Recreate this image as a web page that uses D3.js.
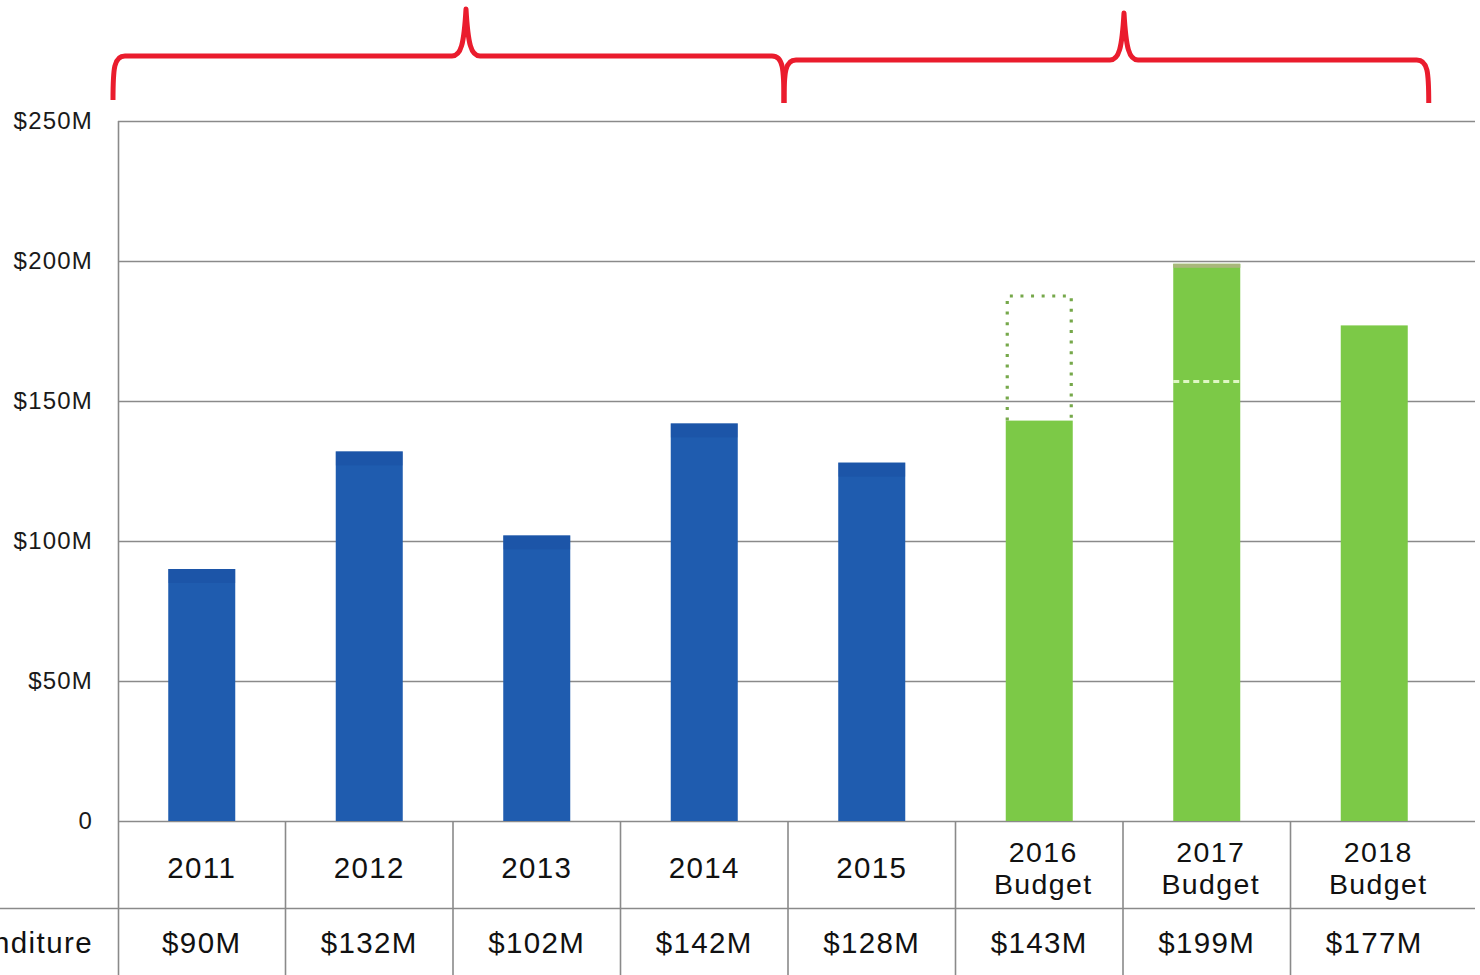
<!DOCTYPE html>
<html><head><meta charset="utf-8">
<script src="https://cdn.jsdelivr.net/npm/d3@7"></script>
<style>
html,body{margin:0;padding:0;background:#fff;}
svg{display:block;font-family:"Liberation Sans",Arial,sans-serif;}
</style></head>
<body>
<svg id="chart" width="1480" height="975"></svg>
<script>
// ---- data ----
const categories = ["2011","2012","2013","2014","2015","2016 Budget","2017 Budget","2018 Budget"];
const categoryLines = [["2011"],["2012"],["2013"],["2014"],["2015"],["2016","Budget"],["2017","Budget"],["2018","Budget"]];
const values = [90,132,102,142,128,143,199,177];
const valueLabels = ["$90M","$132M","$102M","$142M","$128M","$143M","$199M","$177M"];
const kinds = ["actual","actual","actual","actual","actual","budget","budget","budget"];
const yTicks = [0,50,100,150,200,250];
const yTickLabels = ["0","$50M","$100M","$150M","$200M","$250M"];
const rowLabel = "Expenditure";
// annotation values
const dottedCategory = "2016 Budget", dottedTop = 187.5;
const dashedCategory = "2017 Budget", dashedValue = 157;

(function(){
const svg = d3.select("#chart");
const pLeft = 118, pRight = 1475, pTop = 121, pBottom = 821;
const tableRow1 = 908, tableBottom = 975;

const y = d3.scaleLinear().domain([0,250]).range([pBottom, pTop]);
const x = d3.scaleBand().domain(categories).range([pLeft, pLeft + 8*167.5])
  .paddingInner(0.6).paddingOuter(0.3);
const step = x.step();
const colX = i => pLeft + i*step;

const blue = "#1f5caf", green = "#7cc947", gridC = "#8a8a8a";

// gridlines
svg.append("g").selectAll("line").data(yTicks).join("line")
  .attr("x1", pLeft).attr("x2", pRight)
  .attr("y1", d => Math.round(y(d))+0.5).attr("y2", d => Math.round(y(d))+0.5)
  .attr("stroke", gridC).attr("stroke-width", 1.4);

// y axis labels
svg.append("g").selectAll("text").data(yTicks).join("text")
  .attr("x", 93).attr("y", d => y(d) + 8)
  .attr("text-anchor","end").attr("font-size", 24).attr("letter-spacing", 1.2).attr("fill","#1a1a1a")
  .text((d,i) => yTickLabels[i]);

// bars
svg.append("g").selectAll("rect").data(values).join("rect")
  .attr("x", (d,i) => x(categories[i])).attr("width", x.bandwidth())
  .attr("y", d => y(d)).attr("height", d => y(0) - y(d))
  .attr("fill", (d,i) => kinds[i] === "actual" ? blue : green);

// darker top strip on actual bars
svg.append("g").selectAll("rect").data(values).join("rect")
  .filter((d,i) => kinds[i] === "actual")
  .attr("x", (d,i) => x(categories[i])).attr("width", x.bandwidth())
  .attr("y", d => y(d)).attr("height", 14)
  .attr("fill", "#17499a").attr("opacity", 0.35);

// dotted box above 2016 bar
{
  const i = categories.indexOf(dottedCategory);
  const bx0 = x(dottedCategory), bx1 = bx0 + x.bandwidth();
  const yt = y(dottedTop), yb = y(values[i]);
  svg.append("path")
    .attr("d", `M${bx0+1.5},${yb} L${bx0+1.5},${yt} L${bx1-1.5},${yt} L${bx1-1.5},${yb}`)
    .attr("fill","none").attr("stroke","#76a84a").attr("stroke-width",3.2)
    .attr("stroke-dasharray","3,7.6");
}
// dashed marker inside 2017 bar
{
  const bx0 = x(dashedCategory), bx1 = bx0 + x.bandwidth();
  svg.append("line").attr("x1", bx0).attr("x2", bx1)
    .attr("y1", y(dashedValue)).attr("y2", y(dashedValue))
    .attr("stroke","#dff7c4").attr("stroke-width",3).attr("stroke-dasharray","6,4");
  svg.append("rect").attr("x", bx0).attr("width", x.bandwidth())
    .attr("y", y(values[categories.indexOf(dashedCategory)])).attr("height", 4)
    .attr("fill","#a9b77c");
}

// axis vertical line
svg.append("line").attr("x1", pLeft+0.5).attr("x2", pLeft+0.5).attr("y1", pTop).attr("y2", tableBottom)
  .attr("stroke", gridC).attr("stroke-width", 1.6);

// table lines
svg.append("line").attr("x1", 0).attr("x2", pRight).attr("y1", tableRow1+0.5).attr("y2", tableRow1+0.5)
  .attr("stroke", gridC).attr("stroke-width", 1.6);
svg.append("g").selectAll("line").data(d3.range(1, categories.length)).join("line")
  .attr("x1", i => colX(i)).attr("x2", i => colX(i))
  .attr("y1", pBottom).attr("y2", tableBottom)
  .attr("stroke", gridC).attr("stroke-width", 1.6);

// category labels
const catG = svg.append("g").attr("font-size", 29.5).attr("letter-spacing", 1.4)
  .attr("fill","#111").attr("text-anchor","middle");
categoryLines.forEach((lines, i) => {
  const cx = x(categories[i]) + x.bandwidth()/2 + (lines.length > 1 ? 4 : 0);
  if (lines.length === 1) {
    catG.append("text").attr("x", cx).attr("y", 878).text(lines[0]);
  } else {
    catG.append("text").attr("x", cx).attr("y", 862).attr("font-size", 28.5).text(lines[0]);
    catG.append("text").attr("x", cx).attr("y", 894).attr("font-size", 28.5).text(lines[1]);
  }
});

// value row
svg.append("g").attr("font-size", 29.5).attr("letter-spacing", 1.4).attr("fill","#111").attr("text-anchor","middle")
  .selectAll("text").data(valueLabels).join("text")
  .attr("x", (d,i) => x(categories[i]) + x.bandwidth()/2).attr("y", 953)
  .text(d => d);
svg.append("text").attr("x", 93).attr("y", 953).attr("text-anchor","end")
  .attr("font-size", 29.5).attr("letter-spacing", 1.4).attr("fill","#111").text(rowLabel);

// braces
function brace(x0, x1, xm, yh, ytop, yb0, yb1) {
  return `M${x0},${yb0} C${x0},${yh+12} ${x0+1},${yh} ${x0+12},${yh}`+
    ` L${xm-14},${yh} C${xm-5},${yh} ${xm-2},${yh-12} ${xm},${ytop}`+
    ` C${xm+2},${yh-12} ${xm+5},${yh} ${xm+14},${yh}`+
    ` L${x1-12},${yh} C${x1-1},${yh} ${x1},${yh+12} ${x1},${yb1}`;
}
const split = colX(4) - 4;
const braceG = svg.append("g").attr("fill","none").attr("stroke","#ea1c2d")
  .attr("stroke-width",5).attr("stroke-linejoin","round");
braceG.append("path").attr("d", brace(pLeft-5, split, 466, 56, 9, 100, 103));
braceG.append("path").attr("d", brace(split, x("2018 Budget") + x.bandwidth() + 21, 1124, 60, 13, 103, 103));
})();
</script>
</body></html>
